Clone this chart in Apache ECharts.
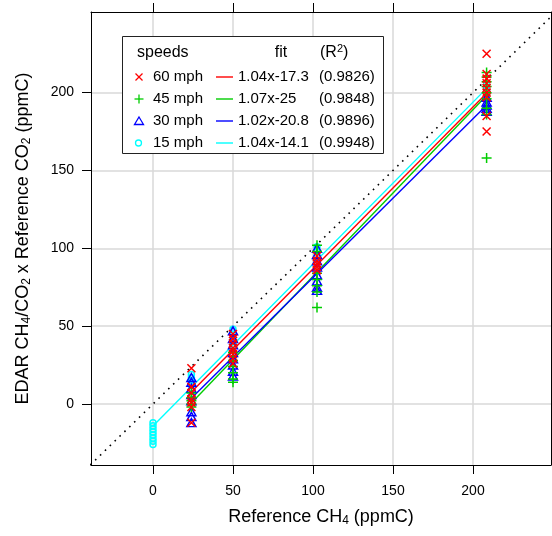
<!DOCTYPE html>
<html><head><meta charset="utf-8">
<script src="https://cdn.jsdelivr.net/npm/echarts@6/dist/echarts.min.js"></script>
<style>html,body{margin:0;padding:0;background:#fff}#c{width:552px;height:536px}</style>
</head><body><div id="c"></div>
<script>
// ---- data ----
const refLevels = [0, 24, 50, 102.5, 208.5];
const speeds = ['60 mph', '45 mph', '30 mph', '15 mph'];
const fitLabels = ['1.04x-17.3', '1.07x-25', '1.02x-20.8', '1.04x-14.1'];
const slopes = [1.04, 1.07, 1.02, 1.04];
const intercepts = [-17.3, -25, -20.8, -14.1];
const r2Labels = ['(0.9826)', '(0.9848)', '(0.9896)', '(0.9948)'];
// y values grouped by reference level (same order as refLevels)
const mph60 = [[], [23, 11, 7, 3, 1, -2, -12], [45, 42, 39, 36, 34, 32, 29, 26], [95, 92, 90, 88, 86], [225, 212, 209, 206, 203, 200, 197, 185, 175]];
const mph45 = [[], [7, 4, 2, 0, -2], [33, 28, 24, 20, 16, 14], [102, 98, 84, 80, 76, 72, 62], [213, 210, 207, 204, 200, 196, 190, 186, 158]];
const mph30 = [[], [17, 14, 10, 6, 2, -5, -8, -12], [47, 42, 38, 33, 29, 25, 21, 18], [100, 96, 92, 88, 83, 79, 75, 73], [197, 194, 192, 190, 188]];
const mph15 = [[-12, -14, -16, -18, -20, -22, -24, -26], [19, 17, 15, 12], [48, 45, 41, 38], [101, 98, 95], [205, 203, 201, 198]];
const xTicks = [0, 50, 100, 150, 200];
const yTicks = [0, 50, 100, 150, 200];
const xMin = -38.75, xMax = 248.75, yMin = -39.2, yMax = 251.8;

// ---- styling ----
const FONT = '"Liberation Sans", Arial, sans-serif';
const colors = ['#ff0000', '#00cd00', '#0000ff', '#00ffff'];
const symbols = ['path://M0,0L10,10M10,0L0,10', 'path://M5,0L5,10M0,5L10,5', 'triangle', 'circle'];
const symSizes = [8, 10, [9, 8], 6];
const groups = [mph60, mph45, mph30, mph15];

function pts(g) {
  const out = [];
  g.forEach((ys, i) => ys.forEach(y => out.push([refLevels[i], y])));
  return out;
}
function fitLine(g, k) {
  const xs = refLevels.filter((x, i) => g[i].length > 0);
  const a = Math.min(...xs), b = Math.max(...xs);
  return [[a, slopes[k] * a + intercepts[k]], [b, slopes[k] * b + intercepts[k]]];
}

const series = [];
const lo = Math.min(xMin, yMin), hi = Math.max(xMax, yMax);
series.push({
  type: 'line', data: [[lo, lo], [hi, hi]], symbol: 'none', silent: true, z: 2,
  lineStyle: { color: '#000', width: 1.6, type: [1.6, 5.2] }, animation: false
});
groups.forEach((g, k) => {
  series.push({
    type: 'line', data: fitLine(g, k), symbol: 'none', z: 3, animation: false,
    lineStyle: { color: colors[k], width: 1.4 }
  });
});
[3, 2, 1, 0].forEach(k => {
  series.push({
    type: 'scatter', data: pts(groups[k]), symbol: symbols[k], symbolSize: symSizes[k], z: 4,
    animation: false,
    itemStyle: { color: 'rgba(0,0,0,0)', borderColor: colors[k], borderWidth: 1.5, opacity: 1 }
  });
});

const axisCommon = {
  type: 'value',
  axisLine: { show: true, onZero: false, lineStyle: { color: '#000', width: 1 } },
  axisTick: { show: true, inside: false, length: 9, lineStyle: { color: '#000', width: 1 } }
};
const nameStyle = {
  fontSize: 18, fontFamily: FONT, color: '#000',
  rich: { sub: { fontSize: 12, fontFamily: FONT, color: '#000', padding: [8, 0, 0, 0] } }
};

const option = {
  animation: false,
  backgroundColor: '#fff',
  grid: { left: 91, right: 1, top: 12, bottom: 71, containLabel: false },
  xAxis: [
    Object.assign({}, axisCommon, {
      min: xMin, max: xMax, position: 'bottom',
      axisTick: Object.assign({}, axisCommon.axisTick, { customValues: xTicks }),
      axisLabel: { customValues: xTicks, margin: 19, fontSize: 14, fontFamily: FONT, color: '#000' },
      splitLine: { show: true, lineStyle: { color: '#d9d9d9', width: 1.5 } },
      name: 'Reference CH{sub|4} (ppmC)', nameLocation: 'middle', nameGap: 42, nameTextStyle: nameStyle
    }),
    Object.assign({}, axisCommon, {
      min: xMin, max: xMax, position: 'top',
      axisTick: Object.assign({}, axisCommon.axisTick, { customValues: xTicks }),
      axisLabel: { show: false }, splitLine: { show: false }
    })
  ],
  yAxis: [
    Object.assign({}, axisCommon, {
      min: yMin, max: yMax, position: 'left',
      axisTick: Object.assign({}, axisCommon.axisTick, { customValues: yTicks }),
      axisLabel: { customValues: yTicks, margin: 17, fontSize: 14, fontFamily: FONT, color: '#000' },
      splitLine: { show: true, lineStyle: { color: '#d9d9d9', width: 1.5 } },
      name: 'EDAR CH{sub|4}/CO{sub|2} x Reference CO{sub|2} (ppmC)', nameLocation: 'middle', nameGap: 58,
      nameRotate: 90, nameTextStyle: nameStyle
    }),
    Object.assign({}, axisCommon, {
      min: yMin, max: yMax, position: 'right',
      axisTick: Object.assign({}, axisCommon.axisTick, { customValues: yTicks }),
      axisLabel: { show: false }, splitLine: { show: false }
    })
  ],
  series: series
};

// ---- legend (drawn as graphics) ----
const LX = 122, LY = 36, LW = 261, LH = 117;
const rowY = [77, 99, 121, 143];
const g = [];
g.push({ type: 'rect', shape: { x: LX + 0.5, y: LY + 0.5, width: LW, height: LH }, style: { fill: '#fff', stroke: '#222', lineWidth: 1 }, z: 100 });
const txt = (text, x, y, size, align, extra) => ({
  type: 'text', z: 101, x: x, y: y,
  style: Object.assign({ text: text, fontSize: size, fontFamily: FONT, fill: '#000', align: align || 'left', verticalAlign: 'middle' }, extra || {})
});
g.push(txt('speeds', 137, 53, 16));
g.push(txt('fit', 281, 53, 16, 'center'));
g.push(txt('(R{sup|2})', 320, 53, 16, 'left', { rich: { sup: { fontSize: 11, fontFamily: FONT, fill: '#000', padding: [0, 0, 9, 0] } } }));
const sx = 139;
// symbols
g.push({ type: 'line', z: 101, shape: { x1: sx - 3.5, y1: rowY[0] - 3.5, x2: sx + 3.5, y2: rowY[0] + 3.5 }, style: { stroke: colors[0], lineWidth: 1.3 } });
g.push({ type: 'line', z: 101, shape: { x1: sx + 3.5, y1: rowY[0] - 3.5, x2: sx - 3.5, y2: rowY[0] + 3.5 }, style: { stroke: colors[0], lineWidth: 1.3 } });
g.push({ type: 'line', z: 101, shape: { x1: sx - 4.5, y1: rowY[1], x2: sx + 4.5, y2: rowY[1] }, style: { stroke: colors[1], lineWidth: 1.3 } });
g.push({ type: 'line', z: 101, shape: { x1: sx, y1: rowY[1] - 4.5, x2: sx, y2: rowY[1] + 4.5 }, style: { stroke: colors[1], lineWidth: 1.3 } });
g.push({ type: 'polygon', z: 101, shape: { points: [[sx, rowY[2] - 4], [sx + 4.5, rowY[2] + 3.5], [sx - 4.5, rowY[2] + 3.5]] }, style: { fill: 'none', stroke: colors[2], lineWidth: 1.3 } });
g.push({ type: 'circle', z: 101, shape: { cx: sx - 0.5, cy: rowY[3], r: 3 }, style: { fill: 'none', stroke: colors[3], lineWidth: 1.3 } });
for (let k = 0; k < 4; k++) {
  g.push(txt(speeds[k], 153, rowY[k], 15));
  g.push({ type: 'line', z: 101, shape: { x1: 216, y1: rowY[k], x2: 233, y2: rowY[k] }, style: { stroke: colors[k], lineWidth: 1.4 } });
  g.push(txt(fitLabels[k], 238, rowY[k], 15));
  g.push(txt(r2Labels[k], 319, rowY[k], 15));
}
option.graphic = { elements: g };

const chart = echarts.init(document.getElementById('c'), null, { renderer: 'canvas' });
chart.setOption(option);
</script>
</body></html>
